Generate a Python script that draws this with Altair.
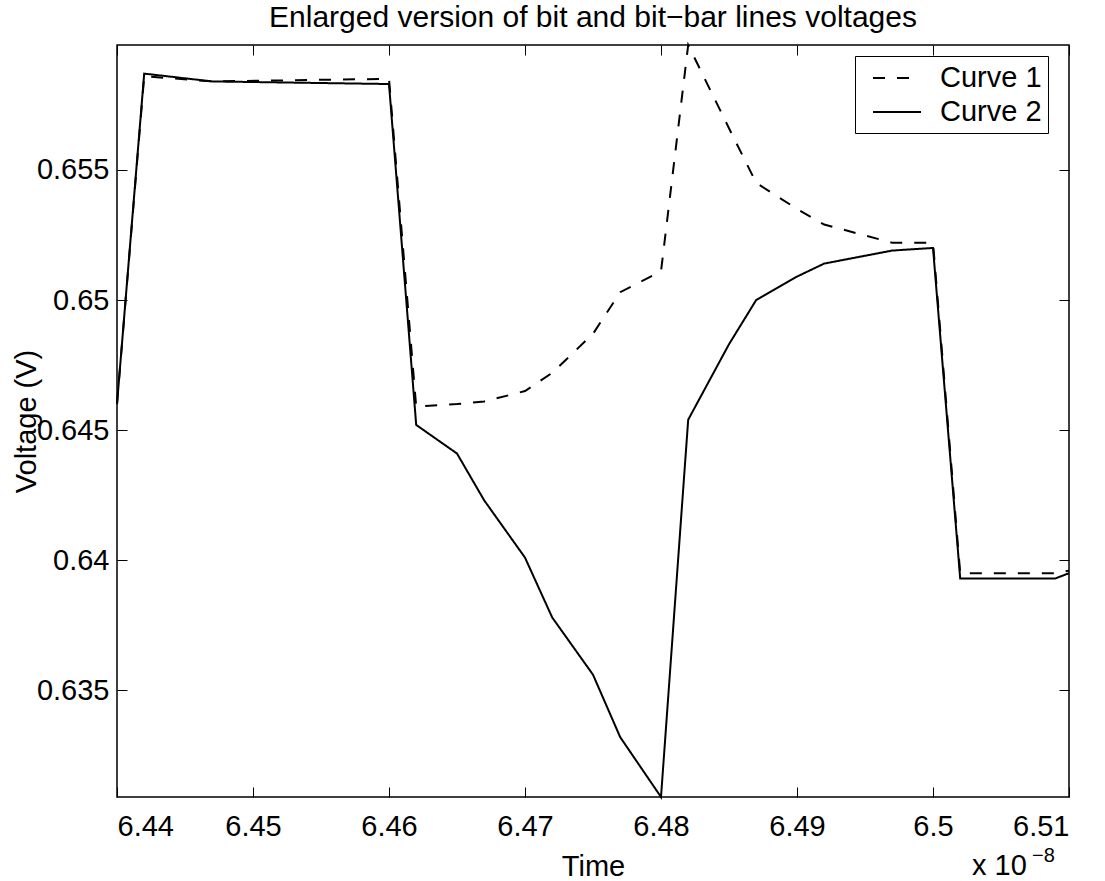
import altair as alt
import pandas as pd

# ---- data (time in units of 1e-8 s, voltage in V) ----
time_pts = [6.44, 6.442, 6.447, 6.46, 6.462, 6.465, 6.467, 6.47, 6.472, 6.475, 6.477,
            6.48, 6.482, 6.485, 6.487, 6.49, 6.492, 6.497, 6.50, 6.502, 6.509, 6.51]
curve1 = [0.6460, 0.6586, 0.6584, 0.6585, 0.6459, 0.6460, 0.6461, 0.6465, 0.6472, 0.6487, 0.6503,
          0.6511, 0.6598, 0.6566, 0.6545, 0.6535, 0.6529, 0.6522, 0.6522, 0.6395, 0.6395, 0.6396]
curve2 = [0.6460, 0.6587, 0.6584, 0.6583, 0.6452, 0.6441, 0.6423, 0.6401, 0.6378, 0.6356, 0.6332,
          0.6309, 0.6454, 0.6483, 0.6500, 0.6509, 0.6514, 0.6519, 0.6520, 0.6393, 0.6393, 0.6395]
series_names = ["Curve 1", "Curve 2"]
x_ticks = [6.44, 6.45, 6.46, 6.47, 6.48, 6.49, 6.50, 6.51]
y_ticks = [0.635, 0.64, 0.645, 0.65, 0.655]
x_domain = [6.44, 6.51]
y_domain = [0.6309, 0.6598]
title_text = "Enlarged version of bit and bit\u2212bar lines voltages"
exp_base = ["x 10"]
exp_power = ["\u22128"]

n = len(time_pts)
df = pd.DataFrame({
    "time": time_pts * 2,
    "voltage": curve1 + curve2,
    "series": [series_names[0]] * n + [series_names[1]] * n,
})

FONT = "Liberation Sans"
FS = 29
W, H = 952, 752

xscale = alt.Scale(domain=x_domain, nice=False, zero=False)
yscale = alt.Scale(domain=y_domain, nice=False, zero=False)

lines = alt.Chart(df).mark_line(color="black", strokeWidth=2).encode(
    x=alt.X("time:Q", scale=xscale,
            axis=alt.Axis(values=x_ticks, format=".2~f", orient="bottom", offset=-10,
                          tickSize=10, domain=False, grid=False, labelPadding=15,
                          labelBaseline="top", title="Time",
                          titleX=W / 2, titleY=88, titleBaseline="alphabetic")),
    y=alt.Y("voltage:Q", scale=yscale,
            axis=alt.Axis(values=y_ticks, format=".3~f", orient="left", offset=-10,
                          tickSize=10, domain=False, grid=False, labelPadding=8,
                          title="Voltage (V)", titleX=-92, titleY=H / 2,
                          titleBaseline="alphabetic", titleAngle=270)),
    strokeDash=alt.StrokeDash(
        "series:N",
        scale=alt.Scale(domain=series_names, range=[[12, 12], [1, 0]]),
        title=None,
        legend=alt.Legend(orient="none", legendX=738, legendY=11,
                          labelExpr="datum.label + '\u00a0'"),
    ),
)

mirror = alt.Chart(df).mark_line(opacity=0).encode(
    x=alt.X("time:Q", scale=xscale,
            axis=alt.Axis(values=x_ticks, orient="top", offset=-10, tickSize=10,
                          domain=False, grid=False, labels=False, title=None)),
    y=alt.Y("voltage:Q", scale=yscale,
            axis=alt.Axis(values=y_ticks, orient="right", offset=-10, tickSize=10,
                          domain=False, grid=False, labels=False, title=None)),
)

exp1 = alt.Chart(pd.DataFrame({"t": exp_base})).mark_text(
    font=FONT, fontSize=FS, align="left", baseline="alphabetic", color="black"
).encode(text="t:N", x=alt.value(855), y=alt.value(830))

exp2 = alt.Chart(pd.DataFrame({"t": exp_power})).mark_text(
    font=FONT, fontSize=20, align="left", baseline="alphabetic", color="black"
).encode(text="t:N", x=alt.value(915), y=alt.value(817))

chart = alt.layer(lines, mirror, exp1, exp2).resolve_axis(
    x="independent", y="independent"
).properties(
    width=W, height=H,
    title=alt.TitleParams(title_text, font=FONT, fontSize=30, fontWeight="normal",
                          color="black", baseline="alphabetic", offset=12, dy=28,
                          anchor="middle"),
    padding={"left": 117, "top": 45, "right": 36, "bottom": 84},
    autosize=alt.AutoSizeParams(type="none"),
).configure_view(
    stroke="black", strokeWidth=1.5
).configure_axis(
    labelFont=FONT, labelFontSize=FS, labelColor="black",
    titleFont=FONT, titleFontSize=FS, titleColor="black", titleFontWeight="normal",
    tickColor="black", tickWidth=1,
).configure_legend(
    labelFont=FONT, labelFontSize=FS, labelColor="black",
    strokeColor="black", fillColor="white", padding=6,
    symbolType="M-1.6,0L1.6,0", symbolSize=900, symbolStrokeWidth=2,
    symbolStrokeColor="black", symbolOffset=20, labelOffset=27, rowPadding=3,
)

chart.save("out.html", embed_options={"renderer": "svg", "actions": False})
